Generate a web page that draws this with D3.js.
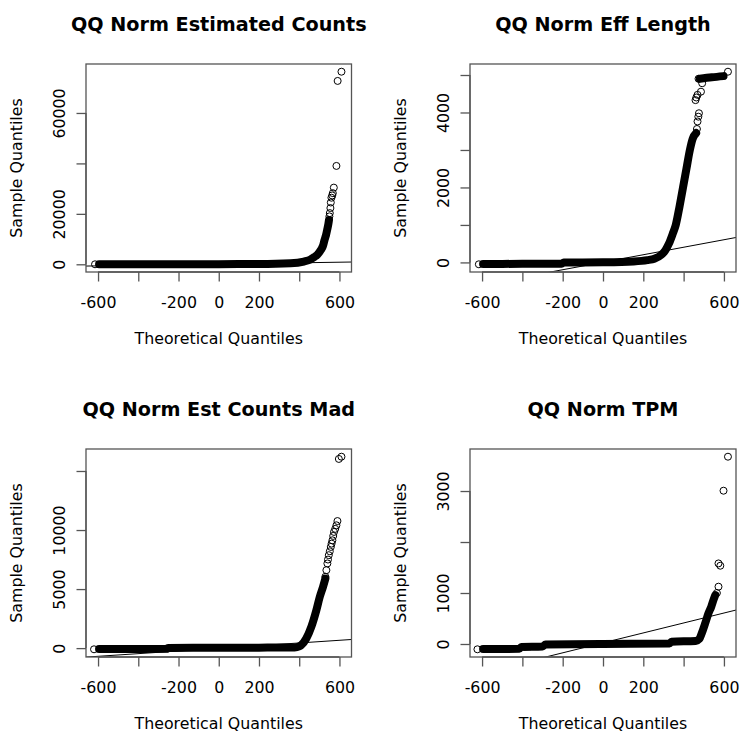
<!DOCTYPE html>
<html>
<head>
<meta charset="utf-8">
<script src="https://cdn.jsdelivr.net/npm/d3@7"></script>
<style>
  body { margin: 0; background: #fff; }
  text { font-family: "DejaVu Sans", sans-serif; fill: #000; }
</style>
</head>
<body>
<svg width="741" height="733"></svg>
<script>
// theoretical quantile range shared by all four panels
const xRange = [-611, 611];
const xTicks = [-600, -400, -200, 0, 200, 400, 600];
const xTickLabels = ["-600", "", "-200", "0", "200", "", "600"];

// est counts: dense band, single circles, qqline ends
const countsBand = [[-595, 0], [-300, 30], [0, 60], [200, 100], [357, 400], [423, 1100], [456, 1900],
    [474, 2850], [490, 3800], [508, 5740], [518, 7300], [526, 9700], [533, 11500], [539, 13700],
    [545, 16000], [548, 17600]];
const countsPts = [[-615, 0], [550, 19000], [552, 20300], [555, 22300], [557, 24500], [560, 26400],
    [564, 27300], [567, 28200], [572, 30400], [585, 39000], [591, 72700], [610, 76360]];
const countsLine = [[-660, -700], [660, 900]];
const countsTicks = [0, 20000, 40000, 60000];
const countsTickLabels = ["0", "20000", "", "60000"];

// eff length
const effBand = [[-595, -40], [-400, -38], [-205, -35], [-195, -5], [0, 3], [150, 25], [220, 60],
    [255, 100], [289, 200], [310, 330], [327, 500], [345, 750], [361, 1000], [380, 1500], [397, 2000],
    [414, 2500], [431, 3000], [445, 3300], [462, 3450]];
const effPlateau = [[480, 4900], [540, 4940], [598, 4970]];
const effPts = [[-616, -50], [466, 3560], [469, 3760], [473, 3888], [476, 3980], [459, 4330],
    [463, 4400], [469, 4470], [486, 4555], [492, 4780], [474, 4900], [620, 5088]];
const effLine = [[-660, -655], [660, 665]];
const effTicks = [0, 1000, 2000, 3000, 4000, 5000];
const effTickLabels = ["0", "", "2000", "", "4000", ""];

// est counts mad
const madBand = [[-595, -80], [-260, -60], [-250, 20], [0, 30], [200, 40], [377, 60], [400, 150],
    [410, 253], [435, 817], [460, 1800], [485, 3200], [502, 4330], [518, 5170], [530, 5880]];
const madPts = [[-620, -100], [530, 6040], [535, 6600], [540, 7170], [543, 7500], [547, 7870],
    [552, 8200], [557, 8570], [561, 8850], [565, 9130], [569, 9500], [573, 9840], [579, 10100],
    [585, 10400], [590, 10760], [597, 16020], [610, 16210]];
const madLine = [[-660, -762], [660, 730]];
const madTicks = [0, 5000, 10000, 15000];
const madTickLabels = ["0", "5000", "10000", ""];

// tpm
const tpmBand = [[-595, -100], [-415, -95], [-405, -60], [-300, -50], [-285, -10], [0, 0], [330, 10],
    [340, 45], [460, 60], [478, 100], [490, 210], [507, 405], [523, 600], [537, 730], [548, 862],
    [557, 960]];
const tpmPts = [[-623, -104], [565, 1000], [573, 1124], [573, 1580], [582, 1535], [598, 3006],
    [620, 3673]];
const tpmLine = [[-660, -622], [660, 666]];
const tpmTicks = [0, 1000, 2000, 3000];
const tpmTickLabels = ["0", "1000", "", "3000"];

const panels = [
    {title: "QQ Norm Estimated Counts", bands: [countsBand], pts: countsPts, line: countsLine,
     ticks: countsTicks, labels: countsTickLabels, box: {l: 86, r: 351.5, t: 64, b: 272}},
    {title: "QQ Norm Eff Length", bands: [effBand, effPlateau], pts: effPts, line: effLine,
     ticks: effTicks, labels: effTickLabels, box: {l: 470, r: 736, t: 64, b: 272}},
    {title: "QQ Norm Est Counts Mad", bands: [madBand], pts: madPts, line: madLine,
     ticks: madTicks, labels: madTickLabels, box: {l: 86, r: 351.5, t: 449, b: 657}},
    {title: "QQ Norm TPM", bands: [tpmBand], pts: tpmPts, line: tpmLine,
     ticks: tpmTicks, labels: tpmTickLabels, box: {l: 470, r: 736, t: 449, b: 657}}
];

const svg = d3.select("svg");
svg.append("rect").attr("width", 741).attr("height", 733).attr("fill", "#fff");

const pad = r => [r[0] - 0.04 * (r[1] - r[0]), r[1] + 0.04 * (r[1] - r[0])];
const frame = "#555";
const tickLen = 9.5;
const fs = "15.8px";

panels.forEach((p, i) => {
    const allY = p.bands.flat().concat(p.pts).map(d => d[1]);
    const x = d3.scaleLinear().domain(pad(xRange)).range([p.box.l, p.box.r]);
    const y = d3.scaleLinear().domain(pad(d3.extent(allY))).range([p.box.b, p.box.t]);
    const g = svg.append("g");

    g.append("clipPath").attr("id", "clip" + i)
        .append("rect")
        .attr("x", p.box.l).attr("y", p.box.t)
        .attr("width", p.box.r - p.box.l).attr("height", p.box.b - p.box.t);

    // dense stretch of overlapping circles
    const line = d3.line().x(d => x(d[0])).y(d => y(d[1])).curve(d3.curveMonotoneX);
    g.selectAll(".band").data(p.bands).enter().append("path")
        .attr("class", "band")
        .attr("d", line)
        .attr("fill", "none")
        .attr("stroke", "#000")
        .attr("stroke-width", 8)
        .attr("stroke-linecap", "round")
        .attr("stroke-linejoin", "round");

    g.selectAll(".pt").data(p.pts).enter().append("circle")
        .attr("class", "pt")
        .attr("cx", d => x(d[0]))
        .attr("cy", d => y(d[1]))
        .attr("r", 3.5)
        .attr("fill", "none")
        .attr("stroke", "#000")
        .attr("stroke-width", 1);

    g.append("path")
        .datum(p.line)
        .attr("clip-path", "url(#clip" + i + ")")
        .attr("d", d3.line().x(d => x(d[0])).y(d => y(d[1])))
        .attr("fill", "none")
        .attr("stroke", "#000")
        .attr("stroke-width", 1);

    g.append("rect")
        .attr("x", p.box.l).attr("y", p.box.t)
        .attr("width", p.box.r - p.box.l).attr("height", p.box.b - p.box.t)
        .attr("fill", "none").attr("stroke", frame).attr("stroke-width", 1.3);

    // x axis
    const xa = g.append("g")
        .attr("transform", "translate(0," + p.box.b + ")")
        .call(d3.axisBottom(x).tickValues(xTicks).tickSize(tickLen).tickSizeOuter(0)
            .tickFormat((d, j) => xTickLabels[j]));
    xa.select(".domain").remove();
    xa.selectAll("line").attr("stroke", frame).attr("stroke-width", 1.3);
    xa.selectAll("text").attr("y", 36).attr("dy", null)
        .style("font-size", fs).style("font-family", "DejaVu Sans").attr("fill", "#000");
    xa.append("line")
        .attr("x1", x(xTicks[0])).attr("x2", x(xTicks[xTicks.length - 1]))
        .attr("stroke", frame).attr("stroke-width", 1.3);

    // y axis
    const ya = g.append("g")
        .attr("transform", "translate(" + p.box.l + ",0)")
        .call(d3.axisLeft(y).tickValues(p.ticks).tickSize(tickLen).tickSizeOuter(0)
            .tickFormat((d, j) => p.labels[j]));
    ya.select(".domain").remove();
    ya.selectAll("line").attr("stroke", frame).attr("stroke-width", 1.3);
    ya.selectAll("text")
        .attr("x", 0).attr("y", -21.5).attr("dy", null)
        .attr("transform", "rotate(-90)")
        .attr("text-anchor", "middle")
        .style("font-size", fs).style("font-family", "DejaVu Sans").attr("fill", "#000");
    ya.append("line")
        .attr("y1", y(p.ticks[0])).attr("y2", y(p.ticks[p.ticks.length - 1]))
        .attr("stroke", frame).attr("stroke-width", 1.3);

    const cx = (p.box.l + p.box.r) / 2;
    const cy = (p.box.t + p.box.b) / 2;

    g.append("text")
        .attr("x", cx).attr("y", p.box.t - 33)
        .attr("text-anchor", "middle")
        .style("font-size", "19.2px").style("font-weight", "bold")
        .text(p.title);

    g.append("text")
        .attr("x", cx).attr("y", p.box.b + 72)
        .attr("text-anchor", "middle")
        .style("font-size", fs)
        .text("Theoretical Quantiles");

    g.append("text")
        .attr("transform", "translate(" + (p.box.l - 64) + "," + cy + ") rotate(-90)")
        .attr("text-anchor", "middle")
        .style("font-size", fs)
        .text("Sample Quantiles");
});
</script>
</body>
</html>
